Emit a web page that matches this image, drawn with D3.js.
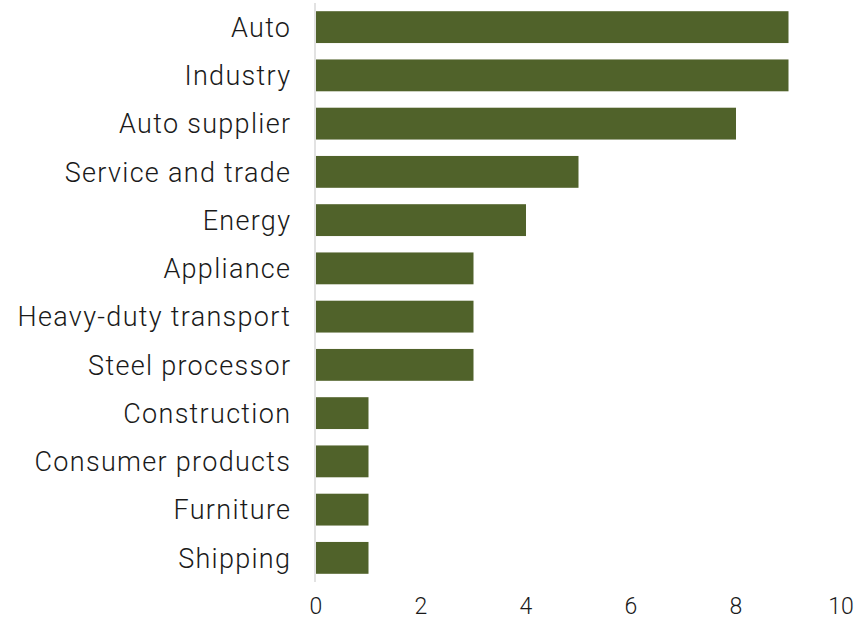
<!DOCTYPE html>
<html>
<head>
<meta charset="utf-8">
<script src="https://cdn.jsdelivr.net/npm/d3@7"></script>
<style>
  html, body { margin: 0; padding: 0; background: #fff; }
  svg text { font-family: Roboto, "DejaVu Sans", sans-serif; fill: #1a1a1a; }
</style>
</head>
<body>
<svg id="chart" width="867" height="620"></svg>
<script>
// Sectors and counts
const categories = [
  "Auto", "Industry", "Auto supplier", "Service and trade", "Energy",
  "Appliance", "Heavy-duty transport", "Steel processor", "Construction",
  "Consumer products", "Furniture", "Shipping"
];
const counts = [9, 9, 8, 5, 4, 3, 3, 3, 1, 1, 1, 1];
const xTicks = [0, 2, 4, 6, 8, 10];

const width = 867, height = 620;
const margin = { top: 3, right: 26, bottom: 38, left: 316 };

const svg = d3.select("#chart");

const x = d3.scaleLinear()
  .domain([0, 10])
  .range([margin.left, width - margin.right]);

const y = d3.scaleBand()
  .domain(categories)
  .range([margin.top, height - margin.bottom])
  .paddingInner(0.34)
  .paddingOuter(0.17);

// Bars
svg.append("g")
  .selectAll("rect")
  .data(categories.map((c, i) => ({ c, v: counts[i] })))
  .join("rect")
  .attr("x", x(0))
  .attr("y", d => y(d.c))
  .attr("width", d => x(d.v) - x(0))
  .attr("height", y.bandwidth())
  .attr("fill", "#50622a");

// Category axis line and labels
svg.append("line")
  .attr("x1", x(0) - 1).attr("x2", x(0) - 1)
  .attr("y1", margin.top).attr("y2", height - margin.bottom)
  .attr("stroke", "#d9d9d9")
  .attr("stroke-width", 1.5);

svg.append("g")
  .selectAll("text")
  .data(categories)
  .join("text")
  .attr("x", x(0) - 24.7)
  .attr("y", d => y(d) + y.bandwidth() / 2)
  .attr("dy", "0.36em")
  .attr("text-anchor", "end")
  .attr("font-size", 27)
  .attr("font-weight", 300)
  .attr("letter-spacing", 1.3)
  .text(d => d);

// Value axis tick labels
svg.append("g")
  .selectAll("text")
  .data(xTicks)
  .join("text")
  .attr("x", d => x(d))
  .attr("y", 614)
  .attr("text-anchor", "middle")
  .attr("font-size", 23)
  .attr("font-weight", 300)
  .text(d => d);
</script>
</body>
</html>
